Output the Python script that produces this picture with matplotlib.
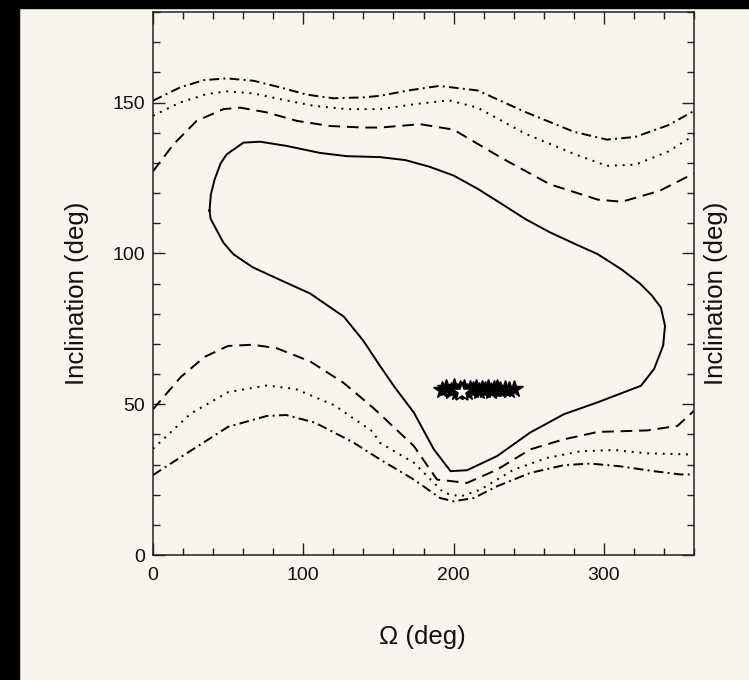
import matplotlib.pyplot as plt
from matplotlib.patches import Rectangle
from matplotlib.ticker import MultipleLocator

plt.rcParams['font.family'] = ['Liberation Sans', 'DejaVu Sans']

bg = '#f8f5ef'

# contour levels, (Omega, inclination) in degrees
solid_om = [37.6, 38.5, 41.0, 45.0, 49.0, 60.2, 71.3, 89.0, 111.0, 129.0, 151.0, 168.0,
            184.0, 200.0, 216.0, 232.0, 248.0, 264.0, 280.0, 296.0, 312.0, 324.0, 332.0,
            338.0, 340.7, 339.5, 333.5, 324.7, 310.0, 295.8, 273.6, 251.0, 229.0, 209.0,
            198.0, 186.9, 173.6, 161.0, 151.3, 140.0, 127.0, 104.5, 85.4, 66.3, 53.5,
            46.9, 41.5, 38.3, 37.6]
solid_inc = [114.2, 119.5, 124.5, 129.8, 132.8, 136.7, 137.0, 135.6, 133.3, 132.2, 131.9, 130.9,
             128.7, 125.8, 121.4, 116.4, 111.3, 107.0, 103.3, 99.7, 94.6, 90.0, 86.0,
             82.0, 76.0, 69.5, 61.7, 56.1, 53.3, 50.6, 46.7, 40.6, 32.8, 28.1,
             27.8, 35.0, 47.2, 55.5, 62.5, 71.0, 79.0, 86.7, 91.0, 95.4, 99.7,
             103.5, 108.5, 111.5, 114.2]

dash_hi_om = [0, 13.6, 29.0, 46.9, 58.0, 75.8, 95.8, 118.0, 140.0, 151.0, 178.0, 200.0,
              232.0, 264.0, 296.0, 312.0, 337.0, 360.0]
dash_hi_inc = [127.2, 136.1, 143.9, 147.8, 148.3, 146.7, 143.9, 142.2, 141.7, 141.7, 142.8, 141.0,
               131.6, 122.9, 117.8, 117.1, 120.7, 126.5]

dash_lo_om = [0, 18.5, 34.4, 50.0, 66.3, 82.0, 104.5, 127.0, 146.0, 151.0, 173.6, 189.0,
              209.0, 229.0, 251.0, 273.0, 296.0, 329.0, 349.0, 360.0]
dash_lo_inc = [48.3, 59.0, 65.7, 69.3, 69.7, 68.6, 64.2, 57.0, 49.0, 46.7, 36.1, 25.0,
               23.9, 28.3, 35.0, 38.3, 40.8, 41.3, 42.8, 47.8]

dot_hi_om = [0, 18.0, 35.8, 49.0, 67.0, 84.7, 106.9, 129.0, 151.0, 175.0, 197.0, 216.0,
             248.0, 280.0, 302.0, 321.0, 343.0, 360.0]
dot_hi_inc = [145.6, 150.0, 152.8, 153.7, 153.0, 151.1, 148.9, 147.8, 147.8, 149.5, 150.7, 148.3,
              139.6, 133.0, 129.0, 129.4, 133.8, 139.1]

dot_lo_om = [0, 24.9, 50.0, 75.8, 95.0, 120.4, 146.0, 151.0, 173.6, 193.5, 204.7, 218.0,
             240.0, 262.4, 284.7, 306.9, 329.0, 360.0]
dot_lo_inc = [35.2, 46.8, 54.0, 56.2, 55.0, 49.7, 41.0, 37.2, 30.6, 20.6, 19.4, 21.7,
              28.3, 32.2, 34.4, 34.8, 33.7, 33.3]

dd_hi_om = [0, 18.0, 33.6, 49.0, 67.0, 84.7, 102.4, 120.0, 140.0, 151.0, 170.0, 190.5,
            216.0, 248.0, 280.0, 302.0, 321.0, 343.0, 360.0]
dd_hi_inc = [150.6, 155.0, 157.4, 158.0, 157.2, 155.0, 152.6, 151.4, 151.7, 152.2, 154.0, 155.5,
             154.0, 146.8, 140.3, 137.7, 138.6, 142.5, 147.2]

dd_lo_om = [0, 24.9, 50.0, 75.8, 88.6, 107.7, 133.0, 151.0, 173.6, 191.0, 200.0, 213.6,
            229.0, 251.0, 273.6, 291.0, 311.0, 333.0, 351.0, 360.0]
dd_lo_inc = [26.5, 34.5, 42.5, 46.1, 46.4, 43.9, 37.4, 31.7, 25.0, 18.9, 17.8, 18.9,
             22.8, 27.2, 29.8, 30.3, 29.4, 27.8, 26.7, 26.7]

# solutions and best fit
sol_om = [192, 195, 198, 200, 202, 204, 207, 209, 211, 213, 215, 217, 219, 221,
          223, 225, 227, 229, 231, 234, 237, 240]
sol_inc = [54.8, 55.3, 54.3, 55.6, 53.9, 54.9, 55.4, 54.1, 55.0, 54.6, 55.3, 54.2,
           55.1, 54.7, 55.5, 54.4, 54.9, 55.2, 54.6, 55.0, 54.8, 54.9]
best_om = [205.5]
best_inc = [54.0]

fig = plt.figure(figsize=(7.49, 6.80), dpi=100, facecolor=bg)
fig.patches.append(Rectangle((0, 0), 19 / 749, 1, transform=fig.transFigure,
                             color='black', zorder=-1))
fig.patches.append(Rectangle((0, 1 - 8 / 680), 1, 8 / 680, transform=fig.transFigure,
                             color='black', zorder=-1))

ax = fig.add_axes([153 / 749, 1 - 555 / 680, 541 / 749, 543 / 680], facecolor=bg)

lw = 1.4
ax.plot(solid_om, solid_inc, color='black', lw=lw)
ax.plot(dash_hi_om, dash_hi_inc, color='black', lw=lw, dashes=(6, 3.5))
ax.plot(dash_lo_om, dash_lo_inc, color='black', lw=lw, dashes=(6, 3.5))
ax.plot(dot_hi_om, dot_hi_inc, color='black', lw=lw, dashes=(1, 3))
ax.plot(dot_lo_om, dot_lo_inc, color='black', lw=lw, dashes=(1, 3))
ax.plot(dd_hi_om, dd_hi_inc, color='black', lw=lw, dashes=(5, 2.2, 1, 2.2))
ax.plot(dd_lo_om, dd_lo_inc, color='black', lw=lw, dashes=(5, 2.2, 1, 2.2))

ax.plot(sol_om, sol_inc, ls='none', marker='*', ms=13, color='black')
ax.plot(best_om, best_inc, ls='none', marker='*', ms=15, mfc='white', mec='black', mew=1.2)

ax.set_xlim(0, 360)
ax.set_ylim(0, 180)
ax.xaxis.set_major_locator(MultipleLocator(100))
ax.xaxis.set_minor_locator(MultipleLocator(20))
ax.yaxis.set_major_locator(MultipleLocator(50))
ax.yaxis.set_minor_locator(MultipleLocator(10))
ax.tick_params(which='both', direction='in', top=True, right=True, width=1, colors='#222222',
               labelsize=14, labelcolor='#111111')
ax.tick_params(which='major', length=8.5)
ax.tick_params(which='minor', length=4.8)
ax.tick_params(axis='x', pad=9)
ax.tick_params(axis='y', pad=6)
for s in ax.spines.values():
    s.set_linewidth(1.1)
    s.set_color('#222222')

fig.text(422 / 749, 1 - 637 / 680, 'Ω (deg)', ha='center', va='center', fontsize=18.5,
         color='#111111')
fig.text(77 / 749, 1 - 293 / 680, 'Inclination (deg)', ha='center', va='center',
         rotation=90, fontsize=18.5, color='#111111')
fig.text(716 / 749, 1 - 293 / 680, 'Inclination (deg)', ha='center', va='center',
         rotation=90, fontsize=18.5, color='#111111')

fig.savefig('out.png', dpi=100, facecolor=bg)
